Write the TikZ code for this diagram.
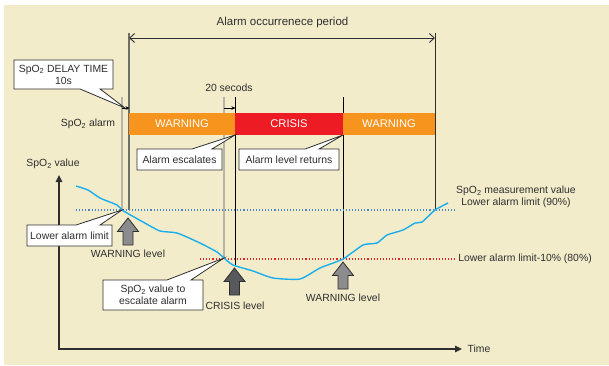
\documentclass[tikz,border=0pt]{standalone}
\usepackage{fontspec}
\setmainfont{Liberation Sans}
\usetikzlibrary{arrows.meta,shapes.callouts}
\definecolor{bg}{HTML}{F3ECCB}
\definecolor{txt}{HTML}{2E2E2E}
\definecolor{warn}{HTML}{F7941D}
\definecolor{crit}{HTML}{ED1C24}
\definecolor{spo}{HTML}{1BAEEA}
\definecolor{limblue}{HTML}{4A86C5}
\definecolor{limred}{HTML}{E5232B}
\definecolor{vline}{HTML}{6E6E68}
\definecolor{lgray}{HTML}{B8B5A6}
\definecolor{arrlight}{HTML}{8C8C8E}
\definecolor{arrdark}{HTML}{58595B}
\newcommand{\spo}{SpO\textsubscript{2}}
\begin{document}
\begin{tikzpicture}[x=1pt,y=-1pt,
  font=\fontsize{10.4}{12}\selectfont,
  lbl/.style={inner sep=0pt, align=center, text=txt},
  callbox/.style={rectangle callout, draw=txt, fill=white, line width=0.8pt,
    inner sep=2pt, align=center, text=txt, callout pointer width=#1},
  callbox/.default=20pt,
  alarmbar/.style={inner sep=0pt, minimum height=22pt, text=white,
    font=\fontsize{11.2}{13}\selectfont},
  thinline/.style={line width=0.9pt},
  uparr/.pic={\path[pic actions] (0,0) -- (10.5,13.5) -- (5,13.5) -- (5,27)
     -- (-5,27) -- (-5,13.5) -- (-10.5,13.5) -- cycle;},
  smallarr/.style={thinline, black, -{Stealth[length=4pt,width=3.5pt]}}
]
\useasboundingbox (0,0) rectangle (609,365);
\fill[bg] (4,5) rectangle (609,365);

% coordinates
\coordinate (L1t) at (129,33);  \coordinate (L1b) at (129,210);
\coordinate (L2t) at (435,33);  \coordinate (L2b) at (435,210);
\coordinate (G1t) at (122,97);  \coordinate (G1b) at (122,210);
\coordinate (G2t) at (224,97);  \coordinate (G2b) at (224,258);
\coordinate (B1t) at (235,97);  \coordinate (B1b) at (235,266);
\coordinate (B2t) at (343,97);  \coordinate (B2b) at (343,259);
\coordinate (P1l) at (129,38);  \coordinate (P1r) at (435,38);
\coordinate (D1a) at (122,108); \coordinate (D1b) at (129.5,108);
\coordinate (D2a) at (224,108); \coordinate (D2b) at (235.5,108);
\coordinate (origin) at (59,349);
\coordinate (ytop) at (59,175);
\coordinate (xend) at (462,349);
\coordinate (limA) at (76,210);  \coordinate (limB) at (455,210);
\coordinate (redA) at (200,259); \coordinate (redB) at (455,259);
\coordinate (cross1) at (122,210);
\coordinate (cross2) at (224,258);
\coordinate (esc) at (235,135);
\coordinate (ret) at (343,135);
\coordinate (dly) at (125,108);

% vertical lines
\draw[lgray, line width=1.3pt] (G1t) -- (G1b);
\draw[lgray, line width=1.3pt] (G2t) -- (G2b);
\draw[vline, line width=1.3pt] (L1t) -- (L1b);
\draw[txt, line width=1pt] (L2t) -- (L2b);
\draw[black, thinline] (B1t) -- (B1b);
\draw[black, thinline] (B2t) -- (B2b);

% occurrence period
\draw[txt, thinline, {Straight Barb[length=5pt,width=9pt]}-{Straight Barb[length=5pt,width=9pt]}] (P1l) -- (P1r);
\node[lbl, font=\fontsize{11.5}{13}\selectfont] (period) at (282.5,23) {Alarm occurrenece period};

% small delay arrows
\draw[smallarr] (D1a) -- (D1b);
\draw[smallarr] (D2a) -- (D2b);
\node[lbl] (sec) at (229,88) {20 secods};

% alarm bars
\node[alarmbar, fill=warn, minimum width=106pt] (w1) at (182,124) {WARNING};
\node[alarmbar, fill=crit, minimum width=108pt] (c1) at (289,124) {CRISIS};
\node[alarmbar, fill=warn, minimum width=92pt] (w2) at (389,124) {WARNING};
\node[lbl] (alarmlbl) at (88,124) {\spo\ alarm};

% limit lines
\draw[limblue, dotted, line width=1.1pt] (limA) -- (limB);
\draw[limred, dotted, line width=1.1pt] (redA) -- (redB);

% measurement curve
\draw[spo, line width=1.4pt, line join=round] plot[smooth, tension=0.35] coordinates {
 (76,186) (88,190) (100,198) (117,205) (122,210) (127,213) (143,222) (160,231)
 (177,233) (200,243) (217,252) (224,258) (233,265) (253,271) (273,278) (300,279)
 (320,268) (343,259) (363,245) (377,243) (387,235) (403,230) (415,223) (422,222)
 (435,210) (448,203)};

% axes
\draw[txt, line width=1.5pt, {Triangle[length=7pt,width=6.5pt]}-{Triangle[length=7pt,width=6.5pt]}] (ytop) -- (origin) -- (xend);
\node[lbl] (yl) at (53,164) {\spo\ value};
\node[lbl] (xl) at (479,349) {Time};

% right labels
\node[lbl] (meas) at (516,197) {\spo\ measurement value\\Lower alarm limit (90\%)};
\node[lbl] (lim80) at (525,259) {Lower alarm limit-10\% (80\%)};

% level arrows
\pic[fill=arrlight, draw=txt, line width=0.8pt] at (128,218) {uparr};
\pic[fill=arrdark, draw=txt, line width=0.8pt] at (234.5,268) {uparr};
\pic[fill=arrlight, draw=txt, line width=0.8pt] at (343,262) {uparr};
\node[lbl] (wl1) at (128,254) {WARNING level};
\node[lbl] (cl) at (235,306) {CRISIS level};
\node[lbl] (wl2) at (343,298) {WARNING level};

% callouts
\node[callbox=20pt, minimum width=99pt, minimum height=29pt,
  callout absolute pointer={(dly)}] (delay) at (63.5,74.5)
  {\spo\ DELAY TIME\\10s};
\node[callbox=20pt, minimum width=85pt, minimum height=21pt,
  callout absolute pointer={(esc)}] (escal) at (179.5,159.5) {Alarm escalates};
\node[callbox=14pt, minimum width=100pt, minimum height=21pt,
  callout absolute pointer={(ret)}] (retn) at (289,159.5) {Alarm level returns};
\node[callbox=24pt, minimum width=85pt, minimum height=21pt,
  callout absolute pointer={(cross1)}] (lowlim) at (69.5,235.5) {Lower alarm limit};
\node[callbox=24pt, minimum width=100pt, minimum height=30pt,
  callout absolute pointer={(cross2)}] (escval) at (153,295)
  {\spo\ value to\\escalate alarm};
\end{tikzpicture}
\end{document}
